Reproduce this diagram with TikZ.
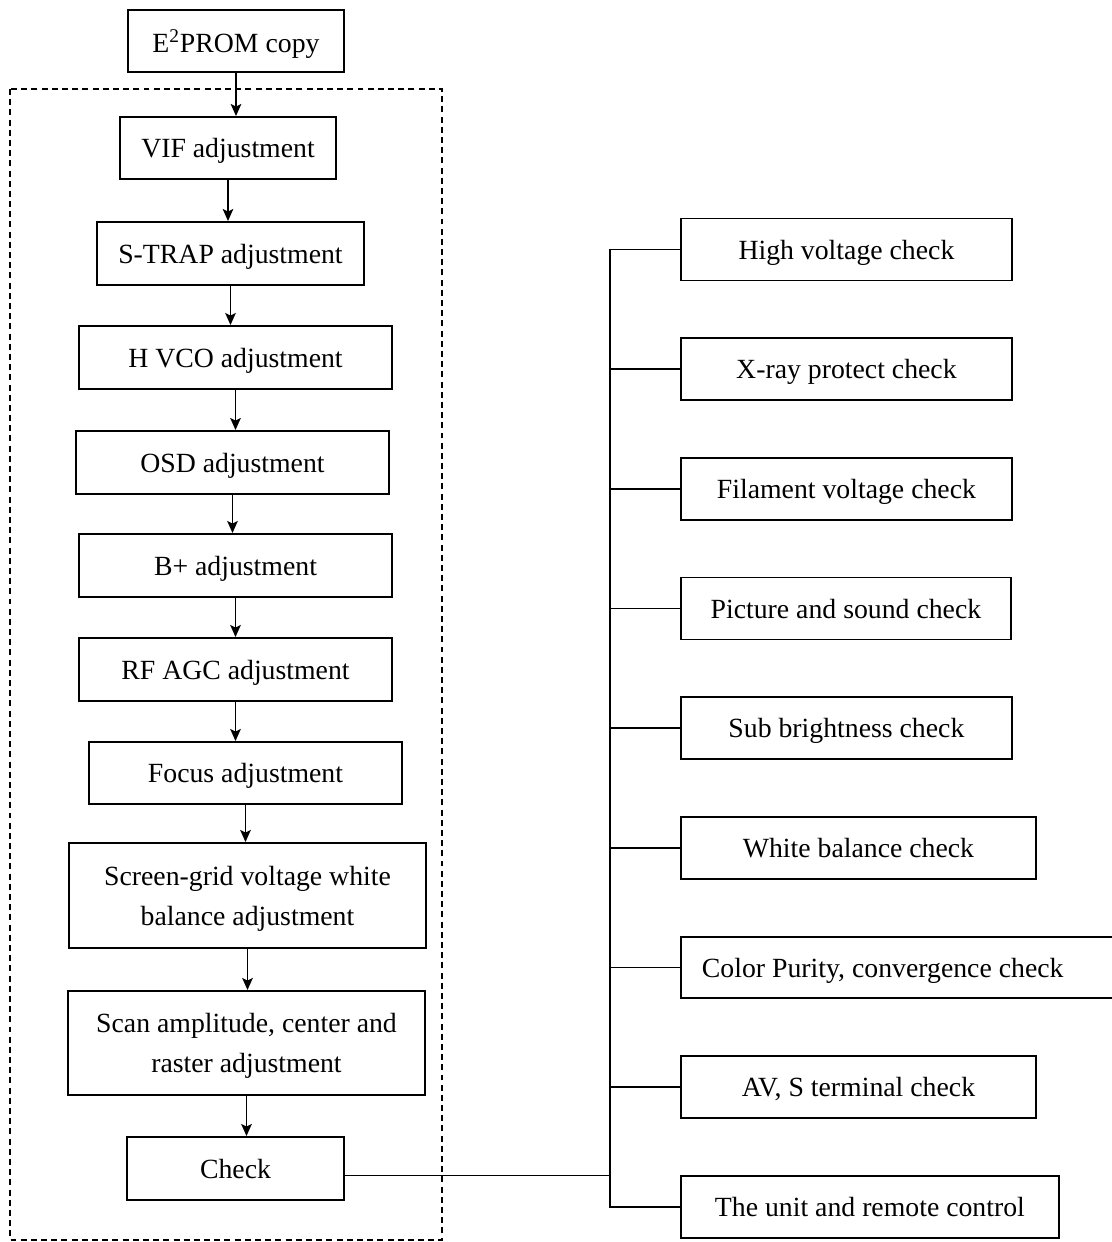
\documentclass[tikz,border=0pt]{standalone}
\usepackage{fontspec}
\setmainfont{Liberation Serif}
\usetikzlibrary{arrows.meta}

\begin{document}
\begin{tikzpicture}[x=0.02cm,y=-0.02cm,
  box/.style={draw,line width=1.1pt,inner sep=0pt,align=center,text depth=0pt,
    font=\fontsize{15.8}{22.8}\selectfont},
  arr/.style={-{Stealth[length=2.4mm,width=2.1mm,inset=0.5mm]},line width=1.1pt}]
  \useasboundingbox (0,0) rectangle (1112,1242);
  \draw[line width=0.9pt,dash pattern=on 3.4pt off 2.4pt] (10,89) rectangle (442,1240);

  \node[box,minimum width=4.32cm,minimum height=1.24cm] (e2) at (236,41) {E\textsuperscript{2}PROM copy};
  \node[box,minimum width=4.32cm,minimum height=1.24cm] (vif) at (228,148) {VIF adjustment};
  \node[box,minimum width=5.34cm,minimum height=1.26cm] (strap) at (230.5,253.5) {S-TRAP adjustment};
  \node[box,minimum width=6.26cm,minimum height=1.26cm] (hvco) at (235.5,357.5) {H VCO adjustment};
  \node[box,minimum width=6.26cm,minimum height=1.26cm] (osd) at (232.5,462.5) {OSD adjustment};
  \node[box,minimum width=6.26cm,minimum height=1.26cm] (bplus) at (235.5,565.5) {B+ adjustment};
  \node[box,minimum width=6.26cm,minimum height=1.26cm] (rfagc) at (235.5,669.5) {RF AGC adjustment};
  \node[box,minimum width=6.26cm,minimum height=1.24cm] (focus) at (245.5,773) {Focus adjustment};
  \node[box,minimum width=7.14cm,minimum height=2.1cm] (screen) at (247.5,895.5) {Screen-grid voltage white\\balance adjustment};
  \node[box,minimum width=7.14cm,minimum height=2.08cm] (scan) at (246.5,1043) {Scan amplitude, center and\\raster adjustment};
  \node[box,minimum width=4.34cm,minimum height=1.26cm] (check) at (235.5,1168.5) {Check};

  \foreach \a/\b in {e2/vif,vif/strap,strap/hvco,hvco/osd,osd/bplus,bplus/rfagc,
                     rfagc/focus,focus/screen,screen/scan,scan/check}
    \draw[arr] (\a.south) -- (\a.south |- \b.north);

  \node[box,minimum width=6.62cm,minimum height=1.24cm,anchor=west] (hv) at (680,249.5) {High voltage check};
  \node[box,minimum width=6.62cm,minimum height=1.24cm,anchor=west] (xray) at (680,369) {X-ray protect check};
  \node[box,minimum width=6.62cm,minimum height=1.24cm,anchor=west] (fil) at (680,489) {Filament voltage check};
  \node[box,minimum width=6.6cm,minimum height=1.24cm,anchor=west] (pic) at (680,608.5) {Picture and sound check};
  \node[box,minimum width=6.62cm,minimum height=1.24cm,anchor=west] (sub) at (680,728) {Sub brightness check};
  \node[box,minimum width=7.1cm,minimum height=1.24cm,anchor=west] (wb) at (680,848) {White balance check};
  \node[box,minimum height=1.22cm,anchor=west,align=flush left,text width=8.6cm,inner xsep=0.42cm] (purity) at (680,967.5) {Color Purity, convergence check};
  \node[box,minimum width=7.1cm,minimum height=1.24cm,anchor=west] (avs) at (680,1087) {AV, S terminal check};
  \node[box,minimum width=7.56cm,minimum height=1.24cm,anchor=west] (unit) at (680,1207) {The unit and remote control};

  \coordinate (bus) at (610,0);
  \draw[line width=1.1pt] (hv.west) -- (hv.west -| bus) -- (unit.west -| bus) -- (unit.west);
  \foreach \n in {xray,fil,pic,sub,wb,purity,avs}
    \draw[line width=1.1pt] (\n.west) -- (\n.west -| bus);
  \draw[line width=1.1pt] ([yshift=-0.14cm]check.east) -- ([yshift=-0.14cm]check.east -| bus);
\end{tikzpicture}
\end{document}
